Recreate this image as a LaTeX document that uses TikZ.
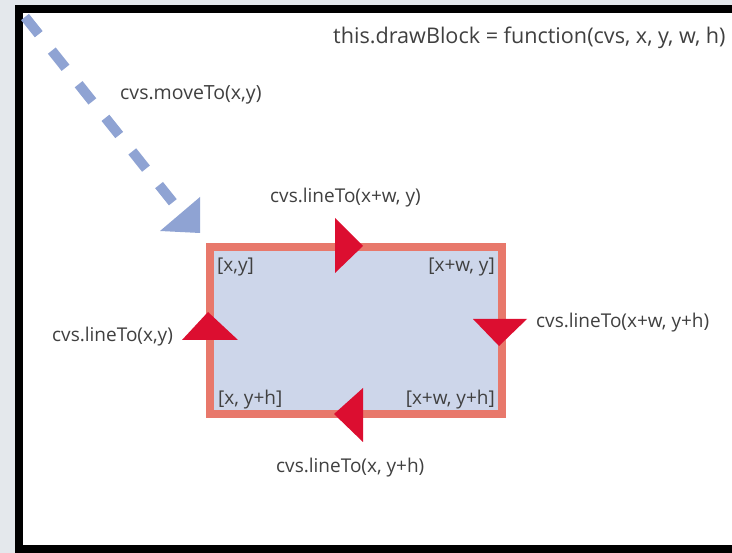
\documentclass[tikz,border=0pt]{standalone}
\usepackage{fontspec}
\setmainfont{Open Sans}
\definecolor{bggray}{HTML}{E4E8EC}
\definecolor{blockfill}{HTML}{CDD6EA}
\definecolor{borderred}{HTML}{E8786B}
\definecolor{arrowred}{HTML}{DC0E30}
\definecolor{dashblue}{HTML}{8FA3D3}
\definecolor{textgray}{HTML}{404040}
\begin{document}
\begin{tikzpicture}[x=1pt,y=-1pt,
  lbl/.style={text=textgray, font=\fontsize{19}{22}\selectfont, inner sep=0pt, anchor=west},
  redtri/.style={fill=arrowred}]
\useasboundingbox (0,0) rectangle (732,553);
\begin{scope}
\clip (0,0) rectangle (732,553);
\fill[bggray] (0,0) rectangle (732,553);
\draw[black, line width=8pt, fill=white] (18.5,9) rectangle (745,549.5);
\end{scope}
% block
\draw[borderred, line width=8pt, fill=blockfill] (210,247) rectangle (502,414);
% dashed move arrow
\draw[dashblue, line width=10pt, dash pattern=on 22pt off 21pt] (25,17) -- (175,205);
\fill[dashblue] (200,197) -- (160,231) -- (200,233) -- cycle;
% red direction triangles
\fill[redtri] (335,218) -- (363,246) -- (335,273) -- cycle;
\fill[redtri] (473,319) -- (527,319) -- (499,346) -- cycle;
\fill[redtri] (363,388) -- (334,414) -- (363,442) -- cycle;
\fill[redtri] (182,340) -- (208,312) -- (238,340) -- cycle;
% labels
\node[lbl, font=\fontsize{21.6}{24}\selectfont] (title) at (333,38) {this.drawBlock = function(cvs, x, y, w, h)};
\node[lbl, font=\fontsize{19.5}{22}\selectfont] (move) at (120,95) {cvs.moveTo(x,y)};
\node[lbl] (ltop) at (270,198) {cvs.lineTo(x+w, y)};
\node[lbl] (lright) at (536,323) {cvs.lineTo(x+w, y+h)};
\node[lbl] (lbottom) at (276,468) {cvs.lineTo(x, y+h)};
\node[lbl] (lleft) at (52,337) {cvs.lineTo(x,y)};
\node[lbl] (c1) at (217,267) {[x,y]};
\node[lbl,anchor=east] (c2) at (495,267) {[x+w, y]};
\node[lbl] (c3) at (218,400) {[x, y+h]};
\node[lbl,anchor=east] (c4) at (495,400) {[x+w, y+h]};
\end{tikzpicture}
\end{document}
